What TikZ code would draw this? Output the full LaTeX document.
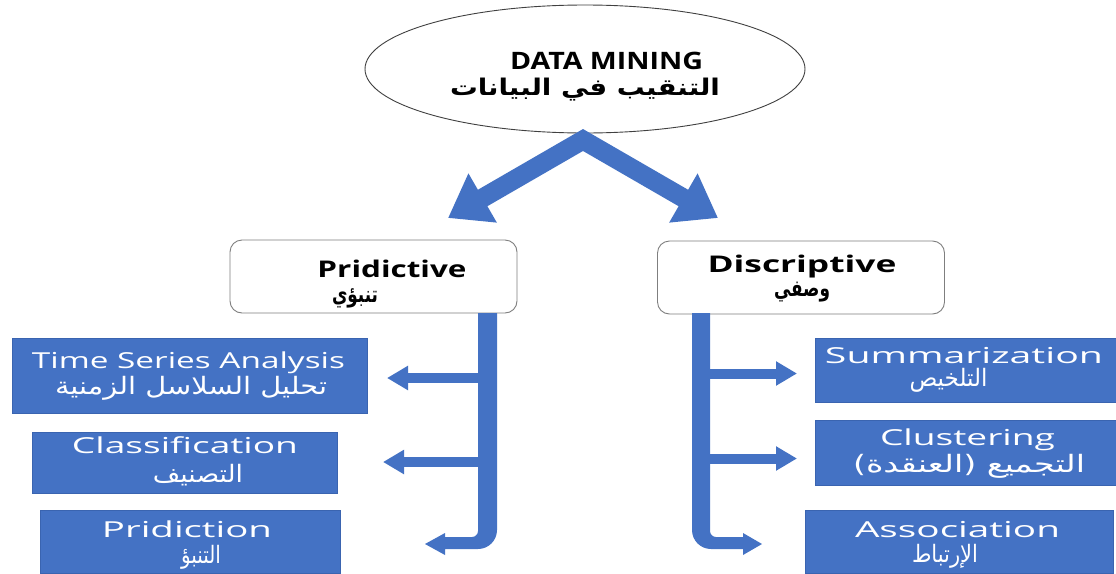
\documentclass[tikz,border=0pt]{standalone}
\usepackage{fontspec}
\usepackage{graphicx}
\setmainfont{Open Sans}
\newfontfamily\arab[Script=Arabic]{DejaVu Sans}
\TeXXeTstate=1
\usetikzlibrary{shapes.geometric,arrows.meta}
\definecolor{obox}{HTML}{4472C4}
\definecolor{oedge}{HTML}{3A64B0}
\definecolor{cedge}{HTML}{7F7F7F}
\newsavebox\mybx
\newcommand\fitw[2]{\sbox\mybx{#2}\resizebox{#1pt}{\ht\mybx}{\usebox\mybx}}
\newcommand\ar[1]{{\arab\beginR #1\endR}}
\begin{document}
\begin{tikzpicture}[x=1pt,y=-1pt,
  leaf/.style={fill=obox,draw=oedge,line width=0.8pt,inner sep=0pt},
  catbox/.style={draw=cedge,line width=0.9pt,rounded corners=12pt,fill=white,inner sep=0pt},
  lat/.style={inner sep=0pt,anchor=base,text=white,font=\fontsize{22}{26}\selectfont},
  arw/.style={inner sep=0pt,anchor=center,text=white,font=\fontsize{24}{28}\selectfont},
  hlat/.style={inner sep=0pt,anchor=base,text=black,font=\fontsize{23}{26}\selectfont\bfseries},
  harw/.style={inner sep=0pt,anchor=center,text=black,font=\fontsize{23}{27}\selectfont\bfseries},
  vbranch/.style={draw=obox,line width=10pt,-{Triangle[length=21pt,width=23pt]}},
  varrow/.style={draw=obox,line width=19pt,line join=miter,
     {Triangle[length=40pt,width=54pt]}-{Triangle[length=40pt,width=54pt]}}]
\useasboundingbox (0,0) rectangle (1116,573);
\fill[white] (0,0) rectangle (1116,573);

% top ellipse
\node[ellipse,draw=black!75,line width=0.9pt,minimum width=440pt,minimum height=128pt,inner sep=0pt] (dm) at (585,69) {};
\node[hlat,font=\fontsize{24}{26}\selectfont\bfseries] (dmt) at (606.5,69) {\fitw{193}{DATA MINING}};
\node[harw] (dma) at (585,90) {\fitw{270}{\ar{التنقيب في البيانات}}};

% V arrow
\coordinate (apex) at (583,140);
\coordinate (lt) at (448,218);
\coordinate (rt) at (718,218);
\draw[varrow] (lt) -- (apex) -- (rt);

% category boxes
\node[catbox,minimum width=287pt,minimum height=73pt] (pred) at (373.5,276.5) {};
\node[hlat] (predt) at (392,277) {\fitw{149}{Pridictive}};
\node[harw] (preda) at (355,298) {\fitw{46}{\ar{تنبؤي}}};

\node[catbox,minimum width=287pt,minimum height=73pt] (desc) at (801,277.5) {};
\node[hlat] (desct) at (802,272) {\fitw{189}{Discriptive}};
\node[harw] (desca) at (802,292) {\fitw{56}{\ar{وصفي}}};

% leaf boxes
\node[leaf,minimum width=355pt,minimum height=75pt] (tsa) at (189.5,375.5) {};
\node[lat] at (188.5,368) {\fitw{313}{Time Series Analysis}};
\node[arw] at (191,388) {\fitw{272}{\ar{تحليل السلاسل الزمنية}}};

\node[leaf,minimum width=305pt,minimum height=61pt] (cls) at (184.5,462.5) {};
\node[lat] at (185,453) {\fitw{226}{Classification}};
\node[arw] at (198,475) {\fitw{90}{\ar{التصنيف}}};

\node[leaf,minimum width=300pt,minimum height=63pt] (prd) at (190,541.5) {};
\node[lat] at (187,537) {\fitw{170}{Pridiction}};
\node[arw] at (201,557) {\fitw{40}{\ar{التنبؤ}}};

\node[leaf,minimum width=301pt,minimum height=64pt] (sum) at (965.5,370) {};
\node[lat] at (964,363) {\fitw{278}{Summarization}};
\node[arw] at (948.5,380) {\fitw{78}{\ar{التلخيص}}};

\node[leaf,minimum width=301pt,minimum height=65pt] (clu) at (965.5,452.5) {};
\node[lat] at (967.5,445) {\fitw{175}{Clustering}};
\node[arw] at (969,466) {\fitw{232}{\ar{التجميع (العنقدة)}}};

\node[leaf,minimum width=308pt,minimum height=63pt] (asc) at (959,541.5) {};
\node[lat] at (957.5,537) {\fitw{205}{Association}};
\node[arw] at (945,556) {\fitw{66}{\ar{الإرتباط}}};

% branch arrows, left
\coordinate (lb1) at (487,378);   \coordinate (lt1) at (387,378);
\coordinate (lb2) at (487,462);   \coordinate (lt2) at (383,462);
\draw[vbranch] (lb1) -- (lt1);
\draw[vbranch] (lb2) -- (lt2);
% branch arrows, right
\coordinate (rb1) at (701,373.5); \coordinate (rt1) at (797,373.5);
\coordinate (rb2) at (701,458.5); \coordinate (rt2) at (797,458.5);
\draw[vbranch] (rb1) -- (rt1);
\draw[vbranch] (rb2) -- (rt2);

% left bent bar
\fill[obox] (478,313) -- (497,313) -- (497,530)
  .. controls (497,540.5) and (488.5,549) .. (478,549)
  -- (445,549) -- (445,555) -- (425,544) -- (445,533) -- (445,537) -- (472,537)
  .. controls (475.3,537) and (478,534.3) .. (478,531) -- cycle;
% right bent bar
\fill[obox] (710,313) -- (692,313) -- (692,530)
  .. controls (692,540.5) and (700.5,549) .. (711,549)
  -- (743,549) -- (743,555) -- (762,544) -- (743,533) -- (743,537) -- (716,537)
  .. controls (712.7,537) and (710,534.3) .. (710,531) -- cycle;
\end{tikzpicture}
\end{document}
